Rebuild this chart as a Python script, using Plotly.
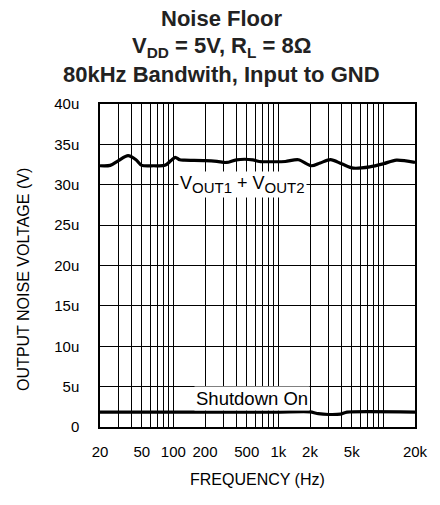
import math
import plotly.graph_objects as go

# ---- data ----
vout_freq = [20, 25, 30, 37, 44, 50, 65, 83, 95, 104, 115, 127, 200, 260, 321,
             398, 571, 658, 900, 1164, 1550, 2065, 2500, 3139, 4000, 5180,
             7420, 10000, 13280, 20000]
vout_uv = [32.35, 32.4, 33.0, 33.6, 33.1, 32.4, 32.35, 32.4, 33.0, 33.4, 33.1,
           33.05, 33.0, 32.9, 32.76, 33.09, 33.09, 32.88, 32.85, 32.88, 33.1,
           32.35, 32.7, 33.1, 32.6, 32.06, 32.22, 32.6, 33.05, 32.76]

sd_freq = [20, 100, 1000, 2000, 2400, 3000, 3900, 4500, 20000]
sd_uv = [1.85, 1.85, 1.85, 1.87, 1.65, 1.55, 1.6, 1.85, 1.85]

x_tick_vals = [20, 50, 100, 200, 500, 1000, 2000, 5000, 20000]
x_tick_text = ["20", "50", "100", "200", "500", "1k", "2k", "5k", "20k"]
x_minor_vals = [20, 30, 40, 50, 60, 70, 80, 90, 100, 200, 300, 400, 500, 600,
                700, 800, 900, 1000, 2000, 3000, 4000, 5000, 6000, 7000, 8000,
                9000, 10000, 20000]
y_tick_vals = [0, 5, 10, 15, 20, 25, 30, 35, 40]
y_tick_text = ["0", "5u", "10u", "15u", "20u", "25u", "30u", "35u", "40u"]

FONT = "Liberation Sans"

fig = go.Figure()
fig.add_trace(go.Scatter(x=vout_freq, y=vout_uv, mode="lines",
                         line=dict(color="black", width=3.2, shape="spline", smoothing=0.8),
                         hoverinfo="skip", showlegend=False))
fig.add_trace(go.Scatter(x=sd_freq, y=sd_uv, mode="lines",
                         line=dict(color="black", width=3.2, shape="spline", smoothing=0.6),
                         hoverinfo="skip", showlegend=False))

fig.update_xaxes(type="log", range=[math.log10(20), math.log10(20000)],
                 tickvals=x_tick_vals, ticktext=x_tick_text,
                 showgrid=True, gridcolor="black", gridwidth=1,
                 minor=dict(tickvals=x_minor_vals, showgrid=True, gridcolor="black", gridwidth=1, ticks=""),
                 showline=True, linecolor="black", linewidth=1.5, mirror=True,
                 ticks="", ticklabelstandoff=10,
                 tickfont=dict(family=FONT, size=15, color="black"),
                 zeroline=False, fixedrange=True)
fig.update_yaxes(range=[0, 40], tickvals=y_tick_vals, ticktext=y_tick_text,
                 showgrid=True, gridcolor="black", gridwidth=1,
                 showline=True, linecolor="black", linewidth=1.5, mirror=True,
                 ticks="", ticklabelstandoff=16,
                 tickfont=dict(family=FONT, size=15, color="black"),
                 zeroline=False, fixedrange=True)

ann = []
title_lines = [
    ("Noise Floor", 1.264),
    ("V<sub>DD</sub> = 5V, R<sub>L</sub> = 8Ω", 1.176),
    ("80kHz Bandwith, Input to GND", 1.092),
]
for txt, yy in title_lines:
    ann.append(dict(text="<b>" + txt + "</b>", xref="paper", yref="paper",
                    x=0.386, y=yy, xanchor="center", yanchor="middle",
                    showarrow=False, borderpad=0,
                    font=dict(family=FONT, size=22, color="#222")))
ann.append(dict(text="OUTPUT NOISE VOLTAGE (V)", xref="paper", yref="paper",
                x=-0.245, y=0.458, xanchor="center", yanchor="middle", textangle=-90,
                showarrow=False, font=dict(family=FONT, size=16, color="black")))
ann.append(dict(text="FREQUENCY (Hz)", xref="paper", yref="paper",
                x=0.5, y=-0.161, xanchor="center", yanchor="middle",
                showarrow=False, font=dict(family=FONT, size=16, color="black")))
ann.append(dict(text='V<sub><span style="font-size:15px">OUT1</span></sub> + '
                     'V<sub><span style="font-size:15px">OUT2</span></sub>',
                xref="x", yref="y",
                x=2.66, y=30.0, xanchor="center", yanchor="middle",
                showarrow=False, bgcolor="white", borderpad=1,
                font=dict(family=FONT, size=18, color="black")))
ann.append(dict(text="Shutdown On", xref="x", yref="y",
                x=2.749, y=3.5, xanchor="center", yanchor="middle",
                showarrow=False, bgcolor="white", borderpad=1,
                font=dict(family=FONT, size=18.5, color="black")))

# page body adds an 8px offset, so the figure is drawn 8px smaller
fig.update_layout(width=432, height=497,
                  margin=dict(l=92, r=17, t=96, b=78),
                  paper_bgcolor="white", plot_bgcolor="white",
                  annotations=ann, showlegend=False)

fig.write_html("out.html", config={"displayModeBar": False})
